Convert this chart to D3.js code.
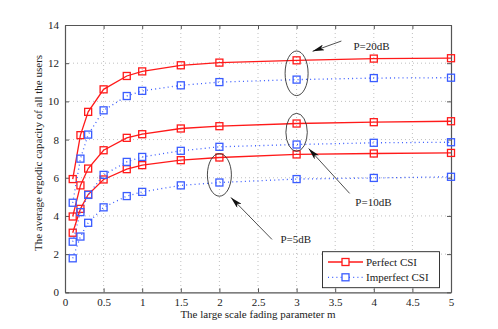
<!DOCTYPE html>
<html>
<head>
<meta charset="utf-8">
<script src="https://cdn.jsdelivr.net/npm/d3@7"></script>
<style>
  body { margin: 0; background: #fff; }
  svg { display: block; font-family: "Liberation Serif", "Times New Roman", serif; }
</style>
</head>
<body>
<svg></svg>
<script>
var mVals = [0.1, 0.2, 0.3, 0.5, 0.8, 1, 1.5, 2, 3, 4, 5];
var perfect20 = [5.93, 8.23, 9.45, 10.63, 11.33, 11.57, 11.89, 12.03, 12.15, 12.24, 12.26];
var perfect10 = [3.97, 5.6, 6.48, 7.44, 8.09, 8.28, 8.58, 8.70, 8.84, 8.91, 8.96];
var perfect5 = [3.12, 4.37, 5.12, 5.91, 6.45, 6.66, 6.92, 7.06, 7.22, 7.27, 7.30];
var imperfect20 = [4.69, 7.0, 8.26, 9.53, 10.28, 10.55, 10.84, 11.01, 11.14, 11.22, 11.24];
var imperfect10 = [2.65, 4.2, 5.1, 6.15, 6.83, 7.09, 7.41, 7.62, 7.74, 7.83, 7.86];
var imperfect5 = [1.78, 2.92, 3.64, 4.45, 5.04, 5.26, 5.6, 5.75, 5.93, 5.99, 6.05];
var xTicks = [0, 0.5, 1, 1.5, 2, 2.5, 3, 3.5, 4, 4.5, 5];
var yTicks = [0, 2, 4, 6, 8, 10, 12, 14];
var legendLabels = ["Perfect CSI", "Imperfect CSI"];

// annotations: ellipse centre in data units, arrow tip/tail in data units
var ellipses = [
    { m: 3, v: 11.47, rx: 11.5, ry: 22.3 },
    { m: 3, v: 8.38, rx: 10.7, ry: 19 },
    { m: 2, v: 6.15, rx: 12, ry: 21.3 }
];
var arrows = [
    { label: "P=20dB", tail: [3.58, 13.16], tip: [3.207, 12.62], text: [3.736, 12.70] },
    { label: "P=10dB", tail: [3.687, 5.18], tip: [3.156, 7.53], text: [3.761, 4.51] },
    { label: "P=5dB", tail: [2.681, 2.77], tip: [2.149, 4.97], text: [2.79, 2.6] }
];

var red = "#ff1a1a", blue = "#3a5cff";
var box = { left: 65, right: 451, top: 25, bottom: 292.3 };
var fs = 11;

var svg = d3.select("svg").attr("width", 498).attr("height", 329);

var x = d3.scaleLinear().domain([0, 5]).range([box.left, box.right]);
var y = d3.scaleLinear().domain([0, 14]).range([box.bottom, box.top]);

// grid
var grid = svg.append("g").attr("stroke", "#b0b0b0").attr("stroke-width", 0.8)
    .attr("stroke-dasharray", "1,3");
grid.selectAll("line.gx").data(xTicks.slice(1, -1)).enter().append("line")
    .attr("x1", d => x(d)).attr("x2", d => x(d))
    .attr("y1", box.top).attr("y2", box.bottom);
grid.selectAll("line.gy").data(yTicks.slice(1, -1)).enter().append("line")
    .attr("y1", d => y(d)).attr("y2", d => y(d))
    .attr("x1", box.left).attr("x2", box.right);

// axes (ticks pointing inward, box on all sides)
var axisColor = "#555";
function styleAxis(g) {
    g.select(".domain").attr("stroke", axisColor).attr("stroke-width", 1.2);
    g.selectAll(".tick line").attr("stroke", axisColor);
    g.selectAll(".tick text").attr("fill", "#222").attr("font-size", fs)
        .attr("font-family", "Liberation Serif, serif");
}
svg.append("g").attr("transform", "translate(0," + box.bottom + ")")
    .call(d3.axisBottom(x).tickValues(xTicks).tickFormat(d3.format("")).tickSizeInner(-4).tickSizeOuter(0).tickPadding(6))
    .call(styleAxis);
svg.append("g").attr("transform", "translate(" + box.left + ",0)")
    .call(d3.axisLeft(y).tickValues(yTicks).tickSizeInner(-4).tickSizeOuter(0).tickPadding(6))
    .call(styleAxis);
svg.append("g").attr("transform", "translate(0," + box.top + ")")
    .call(d3.axisTop(x).tickValues(xTicks).tickFormat("").tickSizeInner(-4).tickSizeOuter(0))
    .call(styleAxis);
svg.append("g").attr("transform", "translate(" + box.right + ",0)")
    .call(d3.axisRight(y).tickValues(yTicks).tickFormat("").tickSizeInner(-4).tickSizeOuter(0))
    .call(styleAxis);

// series
var series = [
    { vals: perfect20, color: red, dash: null },
    { vals: perfect10, color: red, dash: null },
    { vals: perfect5, color: red, dash: null },
    { vals: imperfect20, color: blue, dash: "1,3.2" },
    { vals: imperfect10, color: blue, dash: "1,3.2" },
    { vals: imperfect5, color: blue, dash: "1,3.2" }
];
var line = d3.line().x(d => x(d[0])).y(d => y(d[1]));
var ms = 7;
series.forEach(function (s) {
    var pts = mVals.map((m, i) => [m, s.vals[i]]);
    svg.append("path").datum(pts)
        .attr("d", line)
        .attr("fill", "none")
        .attr("stroke", s.color)
        .attr("stroke-width", 1.3)
        .attr("stroke-dasharray", s.dash);
    svg.append("g").selectAll("rect").data(pts).enter().append("rect")
        .attr("x", d => x(d[0]) - ms / 2)
        .attr("y", d => y(d[1]) - ms / 2)
        .attr("width", ms).attr("height", ms)
        .attr("fill", "none")
        .attr("stroke", s.color)
        .attr("stroke-width", 1.3);
});

// ellipses
svg.append("g").selectAll("ellipse").data(ellipses).enter().append("ellipse")
    .attr("cx", d => x(d.m)).attr("cy", d => y(d.v))
    .attr("rx", d => d.rx).attr("ry", d => d.ry)
    .attr("fill", "none").attr("stroke", "#333").attr("stroke-width", 0.9);

// arrows
svg.append("defs").append("marker")
    .attr("id", "head").attr("viewBox", "0 0 12 6")
    .attr("refX", 12).attr("refY", 3)
    .attr("markerWidth", 12).attr("markerHeight", 6)
    .attr("markerUnits", "userSpaceOnUse")
    .attr("orient", "auto")
    .append("path").attr("d", "M0,0 L12,3 L0,6 L3,3 Z").attr("fill", "#111");

arrows.forEach(function (a) {
    svg.append("line")
        .attr("x1", x(a.tail[0])).attr("y1", y(a.tail[1]))
        .attr("x2", x(a.tip[0])).attr("y2", y(a.tip[1]))
        .attr("stroke", "#222").attr("stroke-width", 0.8)
        .attr("marker-end", "url(#head)");
    svg.append("text")
        .attr("x", x(a.text[0])).attr("y", y(a.text[1]))
        .attr("font-size", fs).attr("fill", "#222")
        .text(a.label);
});

// axis titles
svg.append("text")
    .attr("x", 258).attr("y", 318)
    .attr("text-anchor", "middle").attr("font-size", fs).attr("fill", "#222")
    .text("The large scale fading parameter m");
svg.append("text")
    .attr("transform", "translate(42,153) rotate(-90)")
    .attr("text-anchor", "middle").attr("font-size", fs).attr("fill", "#222")
    .text("The average ergodic capacity of all the users");

// legend
var lg = svg.append("g");
lg.append("rect").attr("x", 322.5).attr("y", 251.7).attr("width", 117).attr("height", 36)
    .attr("fill", "#fff").attr("stroke", "#222").attr("stroke-width", 0.9);
[{ c: red, dash: null }, { c: blue, dash: "1,3.2" }].forEach(function (s, i) {
    var yy = 262 + i * 15.3;
    lg.append("line").attr("x1", 328).attr("x2", 363).attr("y1", yy).attr("y2", yy)
        .attr("stroke", s.c).attr("stroke-width", 1.3).attr("stroke-dasharray", s.dash);
    lg.append("rect").attr("x", 345.5 - ms / 2).attr("y", yy - ms / 2)
        .attr("width", ms).attr("height", ms)
        .attr("fill", "#fff").attr("stroke", s.c).attr("stroke-width", 1.3);
    lg.append("text").attr("x", 366).attr("y", yy + 4)
        .attr("font-size", fs).attr("fill", "#222")
        .text(legendLabels[i]);
});
</script>
</body>
</html>
